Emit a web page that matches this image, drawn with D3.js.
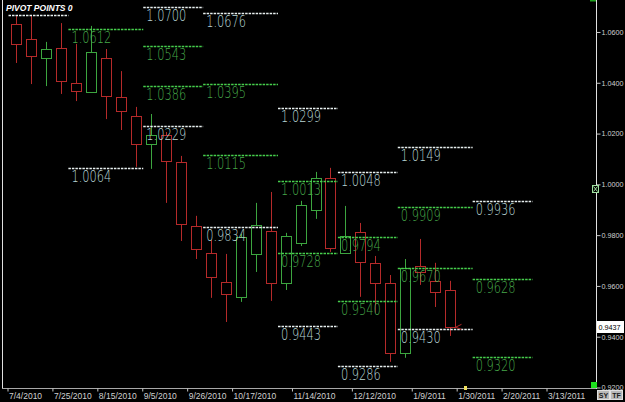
<!DOCTYPE html>
<html>
<head>
<meta charset="utf-8">
<script src="https://cdn.jsdelivr.net/npm/d3@7"></script>
<style>
  body { margin: 0; background: #000; overflow: hidden; }
  svg { display: block; }
</style>
</head>
<body>
<svg id="chart" width="625" height="402"></svg>
<script>
// weekly candles, week of 7/4/2010 .. week of 1/23/2011
var weeks = d3.timeWeek.range(new Date(2010, 6, 4), new Date(2011, 0, 30));

var open  = [1.0631, 1.0572, 1.0498, 1.0537, 1.0399, 1.0364, 1.0498, 1.0344, 1.0269, 1.0159,
             1.0194, 1.0088, 0.9836, 0.9730, 0.9616, 0.9557, 0.9726, 0.9817, 0.9612, 0.9769,
             0.9899, 1.0025, 0.9730, 0.9813, 0.9691, 0.9612, 0.9336, 0.9679, 0.9620, 0.9584];
var high  = [1.0663, 1.0667, 1.0561, 1.0635, 1.0553, 1.0624, 1.0533, 1.0446, 1.0305, 1.0277,
             1.0206, 1.0112, 0.9876, 0.9781, 0.9726, 0.9805, 0.9927, 0.9970, 0.9809, 0.9935,
             1.0049, 1.0065, 0.9915, 0.9848, 0.9718, 0.9643, 0.9706, 0.9785, 0.9691, 0.9620];
var low   = [1.0478, 1.0395, 1.0387, 1.0356, 1.0328, 1.0362, 1.0257, 1.0214, 1.0069, 1.0061,
             0.9927, 0.9777, 0.9706, 0.9553, 0.9458, 0.9537, 0.9655, 0.9541, 0.9584, 0.9757,
             0.9864, 0.9734, 0.9726, 0.9557, 0.9494, 0.9301, 0.9317, 0.9604, 0.9517, 0.9403];
var close = [1.0553, 1.0506, 1.0533, 1.0407, 1.0368, 1.0521, 1.0348, 1.0289, 1.0159, 1.0194,
             1.0092, 0.9844, 0.9746, 0.9635, 0.9569, 0.9793, 0.9840, 0.9612, 0.9797, 0.9919,
             1.0025, 0.9750, 0.9797, 0.9694, 0.9612, 0.9336, 0.9671, 0.9655, 0.9576, 0.9437];

// monthly pivot levels (null = off chart / not drawn)
var monthStarts = ["2010-07-04", "2010-08-01", "2010-09-05", "2010-10-03", "2010-11-07",
                   "2010-12-05", "2011-01-02", "2011-02-06", "2011-03-06"];
var pivotTop = [1.0667, null,   1.0700, 1.0676, 1.0299, 1.0048, 1.0149, 0.9936];
var pivotHi  = [null,   1.0612, 1.0543, 1.0395, 1.0013, 0.9794, 0.9909, 0.9628];
var pivotLo  = [null,   null,   1.0386, 1.0115, 0.9728, 0.9540, 0.9670, 0.9320];
var pivotBot = [null,   1.0064, 1.0229, 0.9834, 0.9443, 0.9286, 0.9430, null];

var yTicks = [0.92, 0.94, 0.96, 0.98, 1.00, 1.02, 1.04, 1.06];
var xTickDates = ["2010-07-04", "2010-07-25", "2010-08-15", "2010-09-05", "2010-09-26", "2010-10-17",
                  "2010-11-14", "2010-12-12", "2011-01-09", "2011-01-30", "2011-02-20", "2011-03-13"];

var parse = d3.timeParse("%Y-%m-%d");
var fmtDate = d3.timeFormat("%-m/%-d/%Y");
var fmtPx = d3.format(".4f");

var W = 625, H = 402, right = 596, bottom = 388;

var svg = d3.select("#chart");
svg.append("rect").attr("width", W).attr("height", H).attr("fill", "#000");

var x = d3.scaleTime()
    .domain([new Date(2010, 6, 4), new Date(2011, 2, 13)])
    .range([7.5, 546.5]);
var y = d3.scaleLinear().domain([0.9198, 1.0726]).range([bottom, 0]);

svg.append("defs").append("clipPath").attr("id", "plot")
  .append("rect").attr("x", 0).attr("y", 0).attr("width", right).attr("height", bottom);

var plot = svg.append("g").attr("clip-path", "url(#plot)");

// candles
var candles = weeks.map(function(d, i) {
  return { date: d, o: open[i], h: high[i], l: low[i], c: close[i] };
});
var red = "#b52a2a", green = "#3ca53f";

var cg = plot.selectAll("g.candle").data(candles).enter().append("g").attr("class", "candle");
function cx(d) { return Math.round(x(d3.timeDay.offset(d.date, 4))) + 0.5; }
function col(d) { return d.c >= d.o ? green : red; }

cg.append("line")
  .attr("x1", cx).attr("x2", cx)
  .attr("y1", function(d) { return y(d.h); })
  .attr("y2", function(d) { return y(d.l); })
  .attr("stroke", col);

cg.append("rect")
  .attr("x", function(d) { return cx(d) - 5; })
  .attr("width", 10)
  .attr("y", function(d) { return Math.round(y(Math.max(d.o, d.c))) + 0.5; })
  .attr("height", function(d) { return Math.max(1, Math.round(Math.abs(y(d.o) - y(d.c)))); })
  .attr("fill", "#000")
  .attr("stroke", col);

// pivot lines
var levels = [];
for (var i = 0; i < pivotTop.length; i++) {
  var x0 = x(parse(monthStarts[i])) + 1, x1 = x(parse(monthStarts[i + 1])) + 1;
  [[pivotTop[i], "w"], [pivotHi[i], "g"], [pivotLo[i], "g"], [pivotBot[i], "w"]].forEach(function(p) {
    if (p[0] != null) levels.push({ v: p[0], k: p[1], x0: x0, x1: x1, label: i > 0 });
  });
}

var pg = plot.selectAll("g.pivot").data(levels).enter().append("g").attr("class", "pivot");
pg.append("line")
  .attr("x1", function(d) { return d.x0; })
  .attr("x2", function(d) { return d.x1; })
  .attr("y1", function(d) { return Math.round(y(d.v)) + 0.5; })
  .attr("y2", function(d) { return Math.round(y(d.v)) + 0.5; })
  .attr("stroke", function(d) { return d.k == "w" ? "#e8f0f0" : "#46cf4c"; })
  .attr("stroke-width", 1.3)
  .attr("stroke-dasharray", "2.5,1");

pg.filter(function(d) { return d.label; }).append("text")
  .attr("x", function(d) { return d.x0 + 3; })
  .attr("y", function(d) { return Math.round(y(d.v)) + 14; })
  .attr("textLength", 40)
  .attr("lengthAdjust", "spacingAndGlyphs")
  .attr("font-family", "DejaVu Sans")
  .attr("font-weight", 200)
  .attr("font-size", "15px")
  .attr("fill", function(d) { return d.k == "w" ? "#b9d6d6" : "#47a84a"; })
  .text(function(d) { return fmtPx(d.v); });

// current price marker
var last = candles[candles.length - 1];
plot.append("path")
  .attr("d", "M" + (cx(last) + 11) + "," + (y(last.c) - 3) + "L" + (cx(last) + 5) + "," + y(last.c) + "L" + (cx(last) + 11) + "," + (y(last.c) + 2))
  .attr("fill", "none").attr("stroke", red);

// frame
svg.append("line").attr("x1", 2.5).attr("x2", 2.5).attr("y1", 0).attr("y2", bottom)
  .attr("stroke", "#e0e0e0");
svg.append("line").attr("x1", right + 0.5).attr("x2", right + 0.5).attr("y1", 0).attr("y2", bottom + 1)
  .attr("stroke", "#e0e0e0");
svg.append("line").attr("x1", 2).attr("x2", right).attr("y1", bottom + 0.5).attr("y2", bottom + 0.5)
  .attr("stroke", "#a8a8a8");

// y axis
var yAxis = svg.append("g").attr("transform", "translate(" + (right + 0.5) + ",0)")
  .call(d3.axisRight(y).tickValues(yTicks).tickFormat(fmtPx).tickSize(4).tickPadding(1));
yAxis.select(".domain").remove();
yAxis.selectAll("line").attr("stroke", "#c8c8c8");
yAxis.selectAll("text").attr("fill", "#d0d0d0").attr("font-family", "Liberation Sans, Arial")
  .attr("font-size", "7.2px");

// x axis
var xAxis = svg.append("g").attr("transform", "translate(0," + (bottom + 0.5) + ")")
  .call(d3.axisBottom(x).tickValues(xTickDates.map(parse)).tickFormat(fmtDate).tickSize(3).tickPadding(1));
xAxis.select(".domain").remove();
xAxis.selectAll("line").attr("stroke", "#c8c8c8");
xAxis.selectAll("text").attr("fill", "#d0d0d0").attr("font-family", "Liberation Sans, Arial")
  .attr("font-size", "8.5px").attr("text-anchor", "start").attr("x", 1);

// title
svg.append("text").attr("x", 6).attr("y", 11)
  .attr("font-family", "Liberation Sans, Arial").attr("font-size", "8.5px")
  .attr("font-weight", "bold").attr("font-style", "italic").attr("fill", "#fff")
  .text("PIVOT POINTS 0");

// last price box
var ly = Math.round(y(last.c));
svg.append("rect").attr("x", right + 1.5).attr("y", ly - 5.5).attr("width", 26).attr("height", 11)
  .attr("fill", "#fff").attr("stroke", "#fff");
svg.append("text").attr("x", right + 2.5).attr("y", ly + 2.5)
  .attr("font-family", "Liberation Sans, Arial").attr("font-size", "7.2px").attr("fill", "#000")
  .text(fmtPx(last.c));

// small widgets
svg.append("rect").attr("x", 591).attr("y", 382).attr("width", 6).attr("height", 6).attr("fill", "#1ee01e");
svg.append("rect").attr("x", 590).attr("y", 0).attr("width", 6).attr("height", 1.5).attr("fill", "#1ea01e");
var ic = svg.append("g").attr("transform", "translate(592,185)");
ic.append("rect").attr("x", 0.5).attr("y", 0.5).attr("width", 6).attr("height", 7).attr("fill", "#000").attr("stroke", "#9fe09f");
ic.append("path").attr("d", "M1.5,1.5L5.5,6.5M5.5,1.5L1.5,6.5").attr("stroke", "#9fe09f");
svg.append("rect").attr("x", 464).attr("y", 386).attr("width", 3).attr("height", 4).attr("fill", "#f0e060");

[["SY", 597], ["TF", 610]].forEach(function(b) {
  svg.append("rect").attr("x", b[1] + 0.5).attr("y", 390.5).attr("width", 12).attr("height", 9)
    .attr("fill", "#b8b8b8").attr("stroke", "#e0e0e0");
  svg.append("text").attr("x", b[1] + 6.5).attr("y", 398).attr("text-anchor", "middle")
    .attr("font-family", "Liberation Sans, Arial").attr("font-size", "7px").attr("font-weight", "bold")
    .attr("fill", "#202020").text(b[0]);
});
</script>
</body>
</html>
